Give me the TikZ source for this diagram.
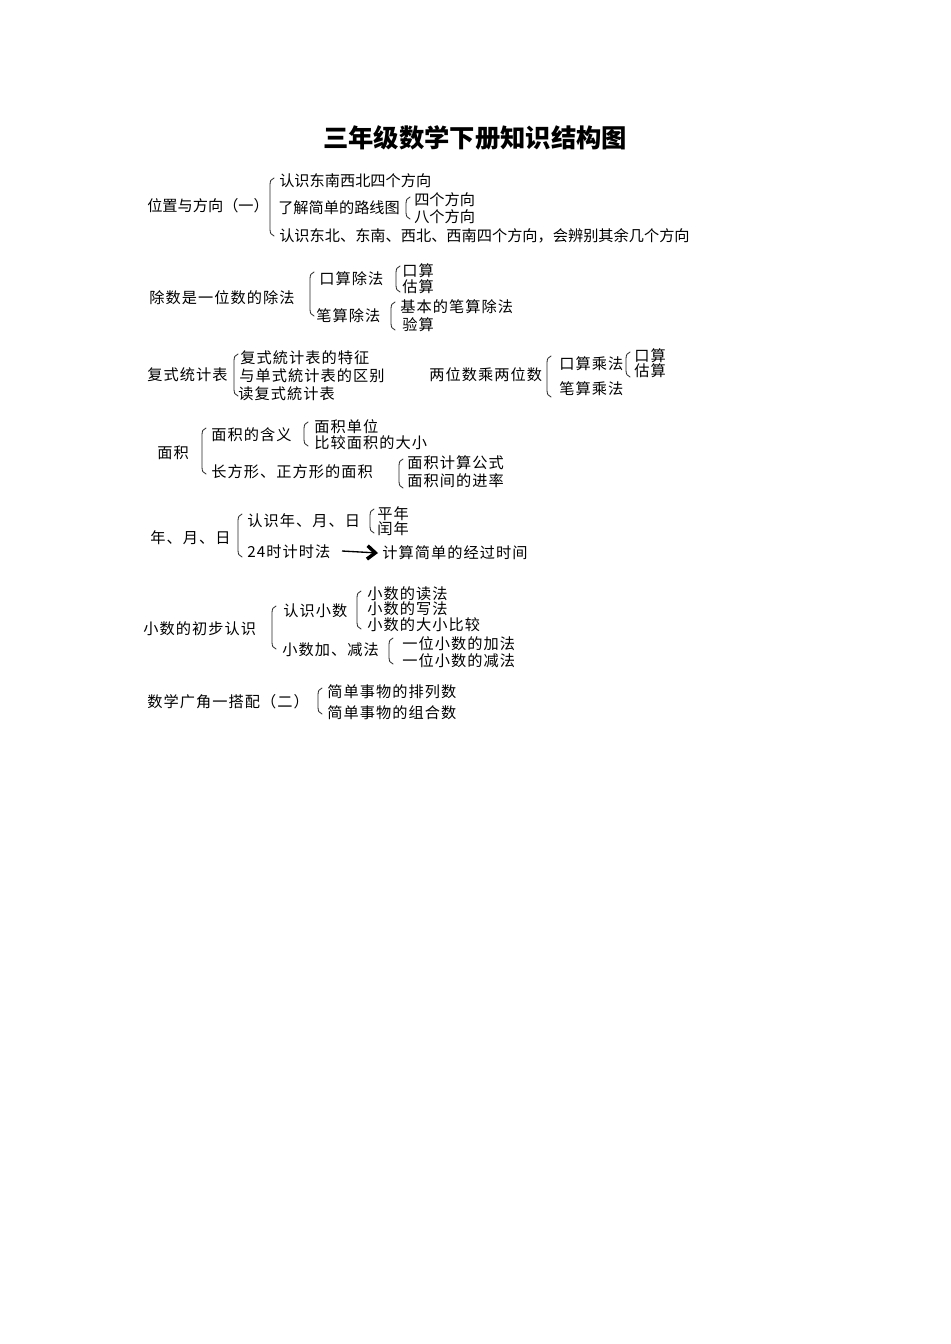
\documentclass[tikz,border=0pt]{standalone}
\usepackage{fontspec}
\usetikzlibrary{arrows.meta}
\newfontfamily\cjkA{Noto Sans CJK SC}
\newfontfamily\cjkB[LetterSpace=7]{Noto Sans CJK SC}
\newfontfamily\cjkT{Noto Sans CJK SC}
\tikzset{
  lbl/.style={anchor=west, inner sep=0pt, font=\cjkB\fontsize{11.4}{13}\selectfont},
  lblA/.style={anchor=west, inner sep=0pt, font=\cjkA\fontsize{11.4}{13}\selectfont},
  brk/.style={line width=0.6pt, black!85, line cap=round},
  ttl/.style={inner sep=0pt, font=\cjkT\bfseries\fontsize{19}{22}\selectfont},
  arr/.style={line width=1pt, -{Straight Barb[length=6pt,width=10pt,line width=2.6pt]}},
}
\newcommand\brkt[3]{\draw[brk] ({#1+4},#2) .. controls ({#1+1},{#2+1}) and (#1,{#2+3}) .. (#1,{#2+7}) -- (#1,{#3-7}) .. controls (#1,{#3-3}) and ({#1+1},{#3-1}) .. ({#1+4},#3);}
\begin{document}
\begin{tikzpicture}[x=0.75pt,y=-0.75pt]
\fill[white] (0,0) rectangle (950,1344);
\useasboundingbox (0,0) rectangle (950,1344);

\node[ttl] (title) at (475,138) {三年级数学下册知识结构图};

% Section 1
\node[lblA] (s1) at (147,206) {位置与方向（一）};
\brkt{270}{178}{236}
\node[lblA] (s1a) at (279,181) {认识东南西北四个方向};
\node[lblA] (s1b) at (278,208) {了解简单的路线图};
\brkt{406}{197}{219}
\node[lblA] (s1b1) at (414,200) {四个方向};
\node[lblA] (s1b2) at (414,217) {八个方向};
\node[lblA] (s1c) at (279,236) {认识东北、东南、西北、西南四个方向，会辨别其余几个方向};

% Section 2
\node[lbl] (s2) at (149,298) {除数是一位数的除法};
\brkt{310}{272}{316}
\node[lbl] (s2a) at (319,279) {口算除法};
\brkt{396}{266}{292}
\node[lbl] (s2a1) at (402,271) {口算};
\node[lbl] (s2a2) at (402,287) {估算};
\node[lbl] (s2b) at (316,316) {笔算除法};
\brkt{391}{302}{330}
\node[lbl] (s2b1) at (400,307) {基本的笔算除法};
\node[lbl] (s2b2) at (402,325) {验算};

% Section 3
\node[lbl] (s3) at (147,375) {复式统计表};
\brkt{234}{354}{396}
\node[lbl] (s3a) at (240,358) {复式統计表的特征};
\node[lbl] (s3b) at (239,376) {与单式統计表的区别};
\node[lbl] (s3c) at (238,394) {读复式統计表};

\node[lbl] (s4) at (429,375) {两位数乘两位数};
\brkt{547}{356}{397}
\node[lbl] (s4a) at (559,364) {口算乘法};
\brkt{626}{352}{377}
\node[lbl] (s4a1) at (634,356) {口算};
\node[lbl] (s4a2) at (634,371) {估算};
\node[lbl] (s4b) at (559,389) {笔算乘法};

% Section 4
\node[lbl] (s5) at (157,453) {面积};
\brkt{202}{428}{474}
\node[lbl] (s5a) at (211,435) {面积的含义};
\brkt{304}{422}{446}
\node[lbl] (s5a1) at (314,427) {面积单位};
\node[lbl] (s5a2) at (314,443) {比较面积的大小};
\node[lbl] (s5b) at (211,472) {长方形、正方形的面积};
\brkt{399}{459}{488}
\node[lbl] (s5b1) at (407,463) {面积计算公式};
\node[lbl] (s5b2) at (407,481) {面积间的进率};

% Section 5
\node[lbl] (s6) at (150,538) {年、月、日};
\brkt{238}{514}{557}
\node[lbl] (s6a) at (247,521) {认识年、月、日};
\brkt{370}{509}{533}
\node[lbl] (s6a1) at (377,514) {平年};
\node[lbl] (s6a2) at (377,529) {闰年};
\node[lbl] (s6b) at (247,552) {24时计时法};
\node[lbl] (s6c) at (382,553) {计算简单的经过时间};
\coordinate (arS) at (342,551);
\draw[arr] (arS) -- ([xshift=-3pt]s6c.west);

% Section 6
\node[lbl] (s7) at (143,629) {小数的初步认识};
\brkt{272}{606}{649}
\node[lbl] (s7a) at (283,611) {认识小数};
\brkt{357}{591}{629}
\node[lbl] (s7a1) at (367,594) {小数的读法};
\node[lbl] (s7a2) at (367,609) {小数的写法};
\node[lbl] (s7a3) at (367,625) {小数的大小比较};
\node[lbl] (s7b) at (282,650) {小数加、减法};
\brkt{389}{638}{664}
\node[lbl] (s7b1) at (402,644) {一位小数的加法};
\node[lbl] (s7b2) at (402,661) {一位小数的减法};

% Section 7
\node[lbl] (s8) at (147,702) {数学广角一搭配（二）};
\brkt{318}{688}{714}
\node[lbl] (s8a) at (327,692) {简单事物的排列数};
\node[lbl] (s8b) at (327,713) {简单事物的组合数};
\end{tikzpicture}
\end{document}
